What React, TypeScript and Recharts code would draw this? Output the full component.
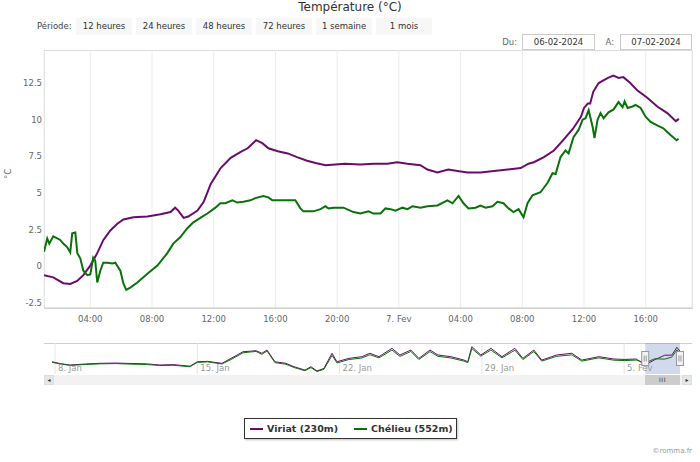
import React from 'react';
import {
  LineChart,
  Line,
  XAxis,
  YAxis,
  CartesianGrid,
  ReferenceArea,
  ReferenceLine,
  ReferenceDot
} from 'recharts';

const FONT = '"DejaVu Sans", Verdana, sans-serif';
const VIRIAT_COLOR = '#6a0d6a';
const CHELIEU_COLOR = '#0b720b';

const chartTitle = 'Température (°C)';
const periodButtons = ['12 heures', '24 heures', '48 heures', '72 heures', '1 semaine', '1 mois'];
const dateFrom = '06-02-2024';
const dateTo = '07-02-2024';
const seriesNames = ['Viriat (230m)', 'Chélieu (552m)'];

// hours since 6 Feb 00:00
const hourTicks = [4, 8, 12, 16, 20, 24, 28, 32, 36, 40];
const hourTickLabels = ['04:00', '08:00', '12:00', '16:00', '20:00', '7. Fev', '04:00', '08:00', '12:00', '16:00'];
const tempTicks = [-2.5, 0, 2.5, 5, 7.5, 10, 12.5];

// navigator: days since 1 Jan 00:00
const navTicks = [7, 14, 21, 28, 35];
const navTickLabels = ['8. Jan', '15. Jan', '22. Jan', '29. Jan', '5. Fev'];
const navSelection = [36.04, 37.75];

// [hour, °C]
const viriatPoints: [number, number][] = [
  [1.0, -0.6], [1.6, -0.75], [2.25, -1.15], [2.7, -1.2], [3.15, -1.0], [3.55, -0.6], [4.0, 0.05],
  [4.45, 0.9], [4.85, 1.8], [5.3, 2.45], [5.75, 2.9], [6.15, 3.2], [6.8, 3.35], [7.7, 3.4],
  [8.55, 3.55], [9.2, 3.7], [9.5, 4.0], [9.7, 3.8], [10.05, 3.3], [10.35, 3.4], [10.95, 3.8],
  [11.35, 4.4], [11.65, 5.2], [11.8, 5.6], [12.45, 6.7], [13.1, 7.4], [13.75, 7.8], [14.2, 8.05],
  [14.75, 8.6], [15.15, 8.4], [15.55, 8.05], [16.15, 7.85], [16.8, 7.7], [17.4, 7.45], [18.05, 7.2],
  [18.6, 7.05], [19.25, 6.9], [20.5, 7.0], [21.5, 6.95], [22.4, 7.0], [23.25, 7.0], [23.9, 7.1],
  [24.55, 7.0], [25.4, 6.9], [25.85, 6.6], [26.5, 6.4], [27.2, 6.6], [27.8, 6.5], [28.45, 6.4],
  [29.3, 6.4], [30.15, 6.5], [31.05, 6.6], [31.9, 6.7], [32.4, 7.0], [32.75, 7.1], [33.4, 7.45],
  [34.05, 7.9], [34.65, 8.6], [35.3, 9.4], [35.8, 10.2], [36.0, 10.8], [36.25, 11.1], [36.4, 11.1],
  [36.6, 11.9], [36.95, 12.5], [37.55, 12.85], [37.9, 13.0], [38.25, 12.85], [38.55, 12.9],
  [39.0, 12.5], [39.45, 12.0], [40.1, 11.5], [40.75, 10.9], [41.4, 10.45], [41.95, 9.9], [42.15, 10.05]
];

const chelieuPoints: [number, number][] = [
  [1.0, 1.0], [1.21, 1.9], [1.34, 1.55], [1.6, 2.05], [1.86, 1.9], [2.05, 1.8], [2.25, 1.55],
  [2.51, 1.3], [2.7, 0.95], [2.83, 2.25], [3.03, 2.3], [3.16, 0.9], [3.35, 0.55], [3.55, -0.3],
  [3.81, -0.6], [4.0, -0.55], [4.19, 0.6], [4.32, 0.4], [4.45, -1.1], [4.65, -0.3], [4.84, 0.25],
  [5.1, 0.25], [5.43, 0.2], [5.62, 0.25], [5.95, -0.3], [6.14, -1.15], [6.33, -1.6], [6.59, -1.45],
  [7.05, -1.1], [7.7, -0.5], [8.35, 0.05], [8.99, 0.9], [9.38, 1.55], [9.84, 2.0], [10.29, 2.6],
  [10.68, 3.0], [11.13, 3.3], [11.59, 3.6], [12.11, 4.0], [12.43, 4.3], [12.75, 4.3], [13.21, 4.5],
  [13.53, 4.35], [13.92, 4.4], [14.38, 4.5], [14.7, 4.65], [15.22, 4.8], [15.54, 4.7], [15.8, 4.5],
  [17.29, 4.5], [17.62, 3.95], [17.81, 3.75], [18.46, 3.75], [18.92, 3.9], [19.24, 4.1], [19.43, 3.95],
  [19.76, 4.0], [20.41, 4.0], [21.06, 3.7], [21.51, 3.6], [22.03, 3.75], [22.35, 3.6], [22.81, 3.6],
  [23.13, 3.95], [23.46, 3.9], [23.78, 3.8], [24.23, 4.0], [24.56, 3.9], [24.88, 4.1], [25.4, 4.0],
  [25.85, 4.1], [26.5, 4.15], [27.15, 4.5], [27.48, 4.3], [27.87, 4.8], [28.19, 4.3], [28.51, 3.95],
  [28.97, 4.0], [29.29, 4.15], [29.62, 4.0], [30.07, 4.1], [30.39, 4.4], [30.78, 4.3], [31.11, 3.95],
  [31.43, 3.7], [31.76, 3.9], [32.08, 3.35], [32.34, 4.3], [32.66, 4.85], [33.18, 5.05], [33.64, 5.7],
  [33.96, 6.35], [34.16, 6.3], [34.48, 7.45], [34.8, 7.9], [35.0, 7.7], [35.32, 8.8], [35.65, 9.3],
  [35.91, 10.0], [36.1, 10.1], [36.3, 10.65], [36.56, 9.5], [36.68, 8.75], [36.88, 10.0], [37.07, 10.45],
  [37.27, 10.1], [37.59, 10.5], [37.92, 10.7], [38.24, 11.2], [38.5, 10.85], [38.63, 11.25],
  [38.83, 10.8], [39.15, 10.9], [39.34, 11.0], [39.67, 10.8], [39.99, 10.2], [40.32, 9.85],
  [40.77, 9.6], [41.16, 9.4], [41.61, 8.95], [42.0, 8.6], [42.13, 8.7]
];

// [day, °C] for the month overview
const navViriatPoints: [number, number][] = [
  [6.85, 1.9], [7.25, 0.5], [7.74, -0.6], [8.5, 0.2], [9.21, 0.7], [10.0, 0.9], [10.69, 0.6],
  [11.5, 0.3], [12.16, -0.6], [12.8, -0.3], [13.64, -1.5], [14.0, 1.9], [14.5, 2.2], [15.21, 0.7],
  [15.66, 4.5], [16.25, 9.6], [16.6, 10.0], [16.89, 10.4], [17.18, 8.4], [17.43, 10.9], [17.82, 1.9],
  [18.36, 0.7], [18.76, -1.9], [19.3, -4.5], [19.59, -1.9], [19.89, -5.2], [20.23, -3.2], [20.63, 8.4],
  [20.87, 1.9], [21.46, 4.5], [22.1, 5.8], [22.49, 8.4], [22.94, 5.8], [23.58, 12.2], [23.97, 7.1],
  [24.51, 10.9], [24.9, 4.5], [25.45, 10.9], [25.84, 7.1], [26.48, 5.8], [27.12, 3.2], [27.31, 1.9],
  [27.51, 13.5], [27.95, 7.1], [28.45, 12.2], [28.99, 5.8], [29.63, 12.2], [30.02, 4.5], [30.56, 10.9],
  [30.95, 3.2], [31.69, 7.1], [32.43, 8.4], [32.92, 3.2], [33.76, 5.8], [34.5, 4.0], [35.04, 3.7],
  [35.6, 4.0], [36.04, -0.6], [36.5, 3.4], [37.0, 6.9], [37.35, 7.0], [37.6, 13.0], [37.75, 10.0]
];

const navChelieuPoints: [number, number][] = [
  [6.85, 1.5], [7.25, 0.2], [7.74, -0.9], [8.5, -0.2], [9.21, 0.3], [10.0, 0.5], [10.69, 0.1],
  [11.5, -0.2], [12.16, -1.0], [12.8, -0.8], [13.64, -1.9], [14.0, 1.4], [14.5, 1.8], [15.21, 0.2],
  [15.66, 3.6], [16.25, 8.8], [16.6, 9.4], [16.89, 9.8], [17.18, 7.6], [17.43, 10.2], [17.82, 1.2],
  [18.36, 0.0], [18.76, -2.5], [19.3, -5.0], [19.59, -2.6], [19.89, -5.6], [20.23, -3.9], [20.63, 6.8],
  [20.87, 1.0], [21.46, 3.6], [22.1, 4.8], [22.49, 7.3], [22.94, 4.9], [23.58, 10.9], [23.97, 6.0],
  [24.51, 9.8], [24.9, 3.6], [25.45, 9.7], [25.84, 6.1], [26.48, 4.8], [27.12, 2.4], [27.31, 1.2],
  [27.51, 12.0], [27.95, 6.2], [28.45, 10.9], [28.99, 4.9], [29.63, 10.8], [30.02, 3.6], [30.56, 9.7],
  [30.95, 2.4], [31.69, 6.1], [32.43, 7.2], [32.92, 2.4], [33.76, 4.9], [34.5, 3.1], [35.04, 2.8],
  [35.6, 3.2], [36.04, 1.0], [36.5, 4.2], [37.0, 3.9], [37.35, 5.5], [37.6, 11.0], [37.75, 8.6]
];

const toRows = (pts: [number, number][]) => pts.map(([x, t]) => ({ x, t }));

const NavHandle = (props: any) => {
  const { cx, cy } = props;
  return (
    <g>
      <rect x={cx - 3.5} y={cy - 7} width={7} height={14} fill="#f2f2f2" stroke="#999" strokeWidth={1} />
      <line x1={cx - 1} y1={cy - 3} x2={cx - 1} y2={cy + 3} stroke="#999" />
      <line x1={cx + 1} y1={cy - 3} x2={cx + 1} y2={cy + 3} stroke="#999" />
    </g>
  );
};

const App: React.FC = () => {
  const tickStyle = { fontSize: 8.5, fill: '#666', fontFamily: FONT };
  return (
    <div style={{ position: 'absolute', left: 0, top: 0, width: 700, height: 462, background: '#fff', fontFamily: FONT, color: '#333', overflow: 'hidden' }}>
      <div style={{ position: 'absolute', top: 0, left: 0, width: 700, textAlign: 'center', fontSize: 12, lineHeight: '15px', color: '#333' }}>
        {chartTitle}
      </div>

      <div style={{ position: 'absolute', top: 18, left: 37, height: 17, lineHeight: '17px', fontSize: 8.5, color: '#444' }}>Période:</div>
      {periodButtons.map((b, i) => (
        <div key={b} style={{ position: 'absolute', top: 18, left: 76 + i * 60, width: 56, height: 17, lineHeight: '16px', fontSize: 8.5, textAlign: 'center', background: '#f7f7f7', color: '#333' }}>
          {b}
        </div>
      ))}

      <div style={{ position: 'absolute', top: 34, left: 490, width: 27, textAlign: 'right', fontSize: 8.5, lineHeight: '16px', color: '#666' }}>Du:</div>
      <div style={{ position: 'absolute', top: 34, left: 522, width: 73, height: 16, boxSizing: 'border-box', border: '1px solid #ccc', fontSize: 8.5, lineHeight: '14px', textAlign: 'center', background: '#fff' }}>{dateFrom}</div>
      <div style={{ position: 'absolute', top: 34, left: 600, width: 14, textAlign: 'right', fontSize: 8.5, lineHeight: '16px', color: '#666' }}>A:</div>
      <div style={{ position: 'absolute', top: 34, left: 620, width: 72, height: 16, boxSizing: 'border-box', border: '1px solid #ccc', fontSize: 8.5, lineHeight: '14px', textAlign: 'center', background: '#fff' }}>{dateTo}</div>

      {/* plot border */}
      <div style={{ position: 'absolute', left: 44, top: 50, width: 649, height: 259, boxSizing: 'border-box', border: '1px solid #dcdcdc' }} />

      <div style={{ position: 'absolute', left: 0, top: 0 }}>
        <LineChart width={700} height={462} margin={{ top: 50, right: 8, bottom: 124, left: 0 }}>
          <CartesianGrid horizontal={false} stroke="#ececec" />
          <XAxis
            type="number"
            dataKey="x"
            domain={[1, 43]}
            ticks={hourTicks}
            allowDataOverflow
            tickFormatter={(v: number) => hourTickLabels[hourTicks.indexOf(v)]}
            axisLine={{ stroke: '#c8c8c8' }}
            tickLine={false}
            height={30}
            tick={tickStyle}
          />
          <YAxis
            type="number"
            domain={[-2.84, 14.75]}
            ticks={tempTicks}
            allowDataOverflow
            width={44}
            tickSize={0}
            tickMargin={2}
            axisLine={false}
            tickLine={false}
            tick={tickStyle}
            label={{ value: '°C', angle: -90, position: 'insideLeft', offset: 8, style: { fontSize: 8.5, fill: '#666', fontFamily: FONT } }}
          />
          <Line data={toRows(viriatPoints)} dataKey="t" name={seriesNames[0]} stroke={VIRIAT_COLOR} strokeWidth={2} dot={false} isAnimationActive={false} />
          <Line data={toRows(chelieuPoints)} dataKey="t" name={seriesNames[1]} stroke={CHELIEU_COLOR} strokeWidth={2} dot={false} isAnimationActive={false} />
        </LineChart>
      </div>

      {/* navigator */}
      <div style={{ position: 'absolute', left: 44, top: 343, width: 648, height: 1, background: '#cfcfcf' }} />
      <div style={{ position: 'absolute', left: 0, top: 343 }}>
        <LineChart width={700} height={31} margin={{ top: 0, right: 18, bottom: 0, left: 52 }}>
          <XAxis type="number" dataKey="x" domain={[6.85, 37.85]} hide allowDataOverflow />
          <YAxis type="number" domain={[-7.5, 16.3]} hide allowDataOverflow />
          {navTicks.map((d, i) => (
            <ReferenceLine
              key={d}
              x={d}
              stroke="#e6e6e6"
              label={{ value: navTickLabels[i], position: 'insideBottomLeft', offset: 3, style: { fontSize: 8.5, fill: '#999', fontFamily: FONT } }}
            />
          ))}
          <ReferenceArea x1={navSelection[0]} x2={navSelection[1]} fill="rgba(102,133,194,0.3)" fillOpacity={1} stroke="none" />
          <Line data={toRows(navViriatPoints)} dataKey="t" stroke={VIRIAT_COLOR} strokeWidth={1} dot={false} isAnimationActive={false} />
          <Line data={toRows(navChelieuPoints)} dataKey="t" stroke={CHELIEU_COLOR} strokeWidth={1} dot={false} isAnimationActive={false} />
          <ReferenceDot x={navSelection[0]} y={4.4} r={0} shape={NavHandle} />
          <ReferenceDot x={navSelection[1]} y={4.4} r={0} shape={NavHandle} />
        </LineChart>
      </div>

      {/* scrollbar */}
      <div style={{ position: 'absolute', left: 44, top: 375, width: 648, height: 10, background: '#f2f2f2' }} />
      <div style={{ position: 'absolute', left: 44, top: 375, width: 10, height: 10, background: '#e6e6e6', boxSizing: 'border-box', border: '1px solid #ddd', fontSize: 6, lineHeight: '8px', textAlign: 'center', color: '#333' }}>◂</div>
      <div style={{ position: 'absolute', left: 682, top: 375, width: 10, height: 10, background: '#e6e6e6', boxSizing: 'border-box', border: '1px solid #ddd', fontSize: 6, lineHeight: '8px', textAlign: 'center', color: '#333' }}>▸</div>
      <div style={{ position: 'absolute', left: 645, top: 375, width: 35, height: 10, background: '#cccccc', fontSize: 6, lineHeight: '10px', textAlign: 'center', color: '#333', letterSpacing: 0.5 }}>III</div>

      {/* legend */}
      <div style={{ position: 'absolute', left: 244, top: 418, width: 213, height: 21, boxSizing: 'border-box', border: '1px solid #333', background: '#fff', boxShadow: '1px 1px 2px rgba(0,0,0,0.25)', whiteSpace: 'nowrap', fontSize: 9.5, fontWeight: 'bold', color: '#333' }}>
        {seriesNames.map((n, i) => (
          <div key={n} style={{ position: 'absolute', top: 0, left: i === 0 ? 5 : 109, height: 19, lineHeight: '19px', display: 'flex', alignItems: 'center', whiteSpace: 'nowrap' }}>
            <span style={{ display: 'inline-block', width: 13, height: 2, background: i === 0 ? VIRIAT_COLOR : CHELIEU_COLOR, marginRight: 4 }} />
            <span>{n}</span>
          </div>
        ))}
      </div>

      <div style={{ position: 'absolute', right: 8, top: 447, fontSize: 7, color: '#999' }}>©romma.fr</div>
    </div>
  );
};

export default App;
